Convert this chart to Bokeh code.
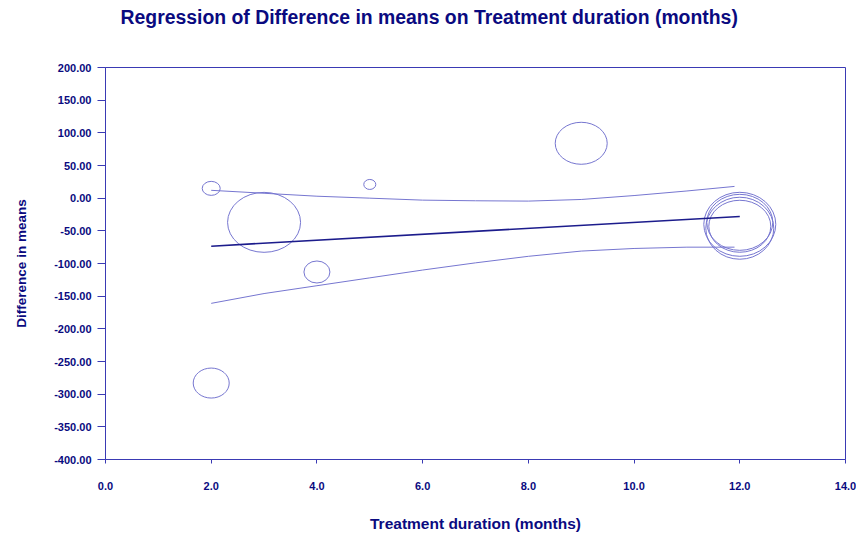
from bokeh.plotting import figure
from bokeh.models import Range1d, FixedTicker, NumeralTickFormatter, Title
from bokeh.embed import file_html
from bokeh.resources import INLINE

# Studies: treatment duration (months) vs difference in means
duration = [2.0, 5.0, 3.0, 4.0, 9.0, 2.0, 12.0, 12.0, 12.0, 12.0]
diff_means = [15.0, 21.0, -37.0, -113.0, 84.0, -283.0, -40.0, -46.0, -37.0, -43.0]
# bubble (weight) sizes in screen pixels
bubble_w = [18, 12, 73, 26, 52, 36, 72, 68, 66, 62]
bubble_h = [14, 10, 60, 22, 42, 30, 64, 62, 56, 52]

# Regression line
reg_x = [2.0, 12.0]
reg_y = [-73.5, -28.0]

# Confidence band
band_x = [2.0, 3.0, 4.0, 5.0, 6.0, 7.0, 8.0, 9.0, 10.0, 11.0, 11.9]
band_upper = [12.0, 7.5, 3.0, 0.0, -3.0, -4.0, -4.5, -2.0, 4.0, 11.0, 18.0]
band_lower = [-161.0, -146.0, -134.0, -122.0, -110.0, -99.0, -89.0, -81.0, -77.0, -75.0, -75.0]

x_ticks = [0, 2, 4, 6, 8, 10, 12, 14]
y_ticks = [-400, -350, -300, -250, -200, -150, -100, -50, 0, 50, 100, 150, 200]

AXIS = "#3a3ab4"
TEXT = "#0a0a80"
BUBBLE = "#7676d0"
FONT = "Liberation Sans"

p = figure(width=856, height=534, output_backend="svg", toolbar_location=None,
           x_range=Range1d(0, 14), y_range=Range1d(-400, 200),
           min_border_left=105, min_border_right=11, min_border_top=67, min_border_bottom=74)

p.title = None
spacer = Title(text=" ", text_font_size="2px", standoff=36)
p.add_layout(spacer, "above")
main_title = Title(text="Regression of Difference in means on Treatment duration (months)",
                   text_font=FONT, text_font_size="19.4px", text_font_style="bold",
                   text_color=TEXT, align="left", offset=15, standoff=0)
p.add_layout(main_title, "above")

p.grid.visible = False
p.outline_line_color = AXIS
p.outline_line_width = 1
p.background_fill_color = "white"
p.border_fill_color = "white"

for ax in (p.xaxis, p.yaxis):
    ax.axis_line_color = AXIS
    ax.major_tick_line_color = AXIS
    ax.minor_tick_line_color = None
    ax.major_label_text_font = FONT
    ax.major_label_text_font_style = "bold"
    ax.major_label_text_font_size = "11px"
    ax.major_label_text_color = TEXT
    ax.axis_label_text_font = FONT
    ax.axis_label_text_font_style = "bold"
    ax.axis_label_text_color = TEXT

p.xaxis.ticker = FixedTicker(ticks=x_ticks)
p.xaxis.formatter = NumeralTickFormatter(format="0.0")
p.xaxis.major_tick_out = 4
p.xaxis.major_tick_in = 0
p.xaxis.major_label_standoff = 18
p.xaxis.axis_label = "Treatment duration (months)"
p.xaxis.axis_label_text_font_size = "15.5px"
p.xaxis.axis_label_standoff = 22

p.yaxis.ticker = FixedTicker(ticks=y_ticks)
p.yaxis.formatter = NumeralTickFormatter(format="0.00")
p.yaxis.major_tick_out = 8
p.yaxis.major_tick_in = 0
p.yaxis.major_label_standoff = 6
p.yaxis.axis_label = "Difference in means"
p.yaxis.axis_label_text_font_size = "13.5px"
p.yaxis.axis_label_standoff = 22

p.ellipse(x=duration, y=diff_means, width=bubble_w, height=bubble_h,
          width_units="screen", height_units="screen",
          fill_color=None, line_color=BUBBLE, line_width=1)

p.line(band_x, band_upper, line_color=BUBBLE, line_width=1)
p.line(band_x, band_lower, line_color=BUBBLE, line_width=1)
p.line(reg_x, reg_y, line_color="#1c1c8c", line_width=1.6)

open("out.html", "w").write(file_html(p, INLINE))
